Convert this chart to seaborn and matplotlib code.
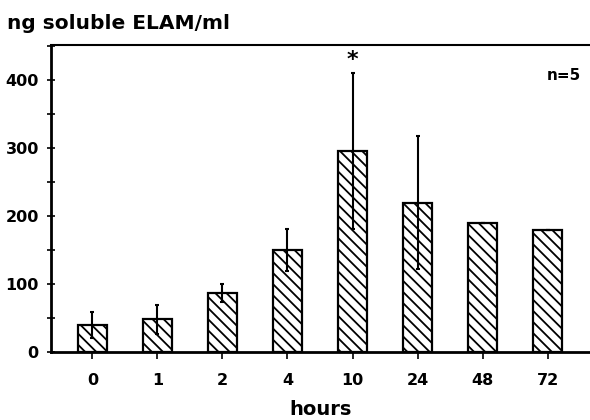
import pandas as pd
import matplotlib.pyplot as plt
import seaborn as sns
from matplotlib.ticker import MultipleLocator

# Values
hours = ['0', '1', '2', '4', '10', '24', '48', '72']
elam_mean = [40, 48, 87, 150, 296, 220, 190, 179]
elam_sd = [19, 21, 13, 31, 115, 98, 0, 0]

data = pd.DataFrame({'hours': hours, 'elam': elam_mean})

sns.set_style('white')
plt.rcParams['font.family'] = ['DejaVu Sans']
plt.rcParams['font.weight'] = 'bold'
plt.rcParams['hatch.linewidth'] = 1.3
plt.rcParams['text.color'] = 'black'
plt.rcParams['axes.labelcolor'] = 'black'
plt.rcParams['xtick.color'] = 'black'
plt.rcParams['ytick.color'] = 'black'

fig = plt.figure(figsize=(5.9, 4.2), dpi=100)
ax = fig.add_axes([0.087, 0.162, 0.913, 0.731])

sns.barplot(x='hours', y='elam', data=data, order=hours, color='white',
            saturation=1, errorbar=None, width=0.44, edgecolor='black',
            linewidth=1.6, hatch='\\\\\\', ax=ax)

# error bars centred on the seaborn bars
centres = [p.get_x() + p.get_width() / 2 for p in ax.patches]
ax.errorbar(centres, elam_mean, yerr=elam_sd, fmt='none', ecolor='black',
            elinewidth=1.5, capsize=1.5, capthick=1.5, zorder=3)

ax.set_xlim(-0.63, 7.65)
ax.set_ylim(0, 452)
ax.yaxis.set_major_locator(MultipleLocator(100))
ax.yaxis.set_minor_locator(MultipleLocator(50))
ax.tick_params(axis='y', which='both', direction='inout', left=True,
               length=6, width=1.2, labelsize=11.5, pad=6)
ax.tick_params(axis='x', direction='out', bottom=True, length=5,
               width=1.2, labelsize=11.5, pad=10)
for lab in ax.get_xticklabels() + ax.get_yticklabels():
    lab.set_fontweight('bold')

for side in ['left', 'bottom']:
    ax.spines[side].set_linewidth(2)
    ax.spines[side].set_color('black')
ax.spines['top'].set_linewidth(1.5)
ax.spines['top'].set_color('black')
ax.spines['right'].set_visible(False)

ax.set_xlabel('hours', fontsize=14, fontweight='bold', labelpad=9)
ax.set_ylabel('')
fig.text(0.012, 0.945, 'ng soluble ELAM/ml', fontsize=14.5,
         fontweight='bold', ha='left', va='center')

ax.text(4, 430, '*', fontsize=16, fontweight='bold', ha='center', va='center')
ax.text(0.983, 0.9, 'n=5', transform=ax.transAxes, fontsize=11,
        fontweight='bold', ha='right', va='center')

fig.savefig('out.png', dpi=100)
plt.close(fig)
